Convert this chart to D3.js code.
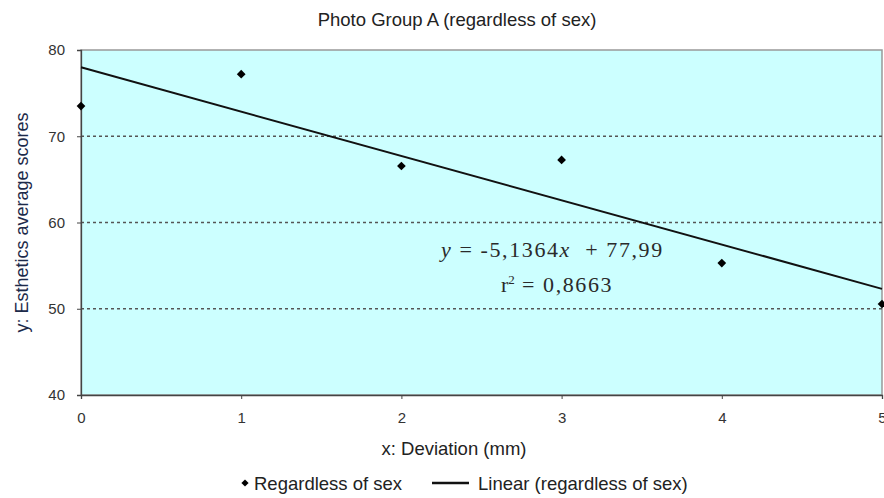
<!DOCTYPE html>
<html>
<head>
<meta charset="utf-8">
<script src="https://cdn.jsdelivr.net/npm/d3@7"></script>
<style>
  body { margin: 0; background: #fff; }
  text { font-family: "Liberation Sans", Arial, sans-serif; }
</style>
</head>
<body>
<div id="chart"></div>
<script>
// data
const deviation = [0, 1, 2, 3, 4, 5]
const scores = [73.5, 77.2, 66.55, 67.25, 55.3, 50.55]
const slope = -5.1364
const intercept = 77.99
const yTicks = [40, 50, 60, 70, 80]
const xTicks = [0, 1, 2, 3, 4, 5]

const W = 884, H = 498
const m = {left: 81, right: 2, top: 50, bottom: 103}
const w = W - m.left - m.right
const h = H - m.top - m.bottom

const svg = d3.select('#chart').append('svg')
  .attr('width', W).attr('height', H)

const g = svg.append('g').attr('transform', `translate(${m.left}, ${m.top})`)

const x = d3.scaleLinear().domain([0, 5]).range([0, w])
const y = d3.scaleLinear().domain([40, 80]).range([h, 0])

// plot background
g.append('rect')
  .attr('width', w).attr('height', h)
  .attr('fill', '#ccffff')
  .attr('stroke', '#999').attr('stroke-width', 1.5)

// gridlines
g.selectAll('.grid')
  .data(yTicks.filter(d => d > 40 && d < 80)).enter()
  .append('line')
    .attr('x1', 0).attr('x2', w)
    .attr('y1', d => y(d)).attr('y2', d => y(d))
    .attr('stroke', '#555').attr('stroke-width', 1.6)
    .attr('stroke-dasharray', '3,3')

// axes
const yAxis = g.append('g')
  .call(d3.axisLeft(y).tickValues(yTicks).tickSize(4).tickPadding(12).tickFormat(d3.format('d')))
const xAxis = g.append('g')
  .attr('transform', `translate(0, ${h})`)
  .call(d3.axisBottom(x).tickValues(xTicks).tickSize(4).tickPadding(13).tickFormat(d3.format('d')))

;[xAxis, yAxis].forEach(a => {
  a.select('.domain').attr('stroke', '#444').attr('stroke-width', 1.3)
  a.selectAll('.tick line').attr('stroke', '#444')
  a.selectAll('.tick text').attr('fill', '#333').style('font-size', '15px')
})

// trend line
g.append('line')
  .attr('x1', x(0)).attr('y1', y(intercept))
  .attr('x2', x(5)).attr('y2', y(intercept + slope * 5))
  .attr('stroke', '#111').attr('stroke-width', 2)

// points
g.selectAll('.pt')
  .data(deviation).enter()
  .append('path')
    .attr('d', d3.symbol(d3.symbolSquare, 38))
    .attr('transform', (d, i) => `translate(${x(d)}, ${y(scores[i])}) rotate(45)`)
    .attr('fill', '#000')

// equation
const eqFont = '"Liberation Serif", "Times New Roman", serif'
const eq = g.append('text')
  .attr('x', 360).attr('y', 207)
  .style('font-family', eqFont).style('letter-spacing', '1.6px')
  .style('white-space', 'pre')
  .style('font-size', '22px').attr('fill', '#2a2a2a')
eq.append('tspan').style('font-style', 'italic').text('y')
eq.append('tspan').text(' = -5,1364')
eq.append('tspan').style('font-style', 'italic').text('x')
eq.append('tspan').text('  + 77,99')

const r2 = g.append('text')
  .attr('x', 420).attr('y', 242)
  .style('font-family', eqFont)
  .style('font-size', '22px').attr('fill', '#2a2a2a')
r2.append('tspan').text('r')
r2.append('tspan').attr('dy', -8).style('font-size', '13px').text('2')
r2.append('tspan').attr('dy', 8).style('letter-spacing', '1.6px').text(' = 0,8663')

// title & labels
svg.append('text')
  .attr('x', 457).attr('y', 26).attr('text-anchor', 'middle')
  .style('font-size', '18.5px').attr('fill', '#222')
  .text('Photo Group A (regardless of sex)')

svg.append('text')
  .attr('x', 454).attr('y', 455).attr('text-anchor', 'middle')
  .style('font-size', '18.5px').attr('fill', '#222')
  .text('x: Deviation (mm)')

svg.append('text')
  .attr('transform', `translate(28, ${m.top + h / 2}) rotate(-90)`)
  .attr('text-anchor', 'middle')
  .style('font-size', '18px').attr('fill', '#1d2a4a')
  .text('y: Esthetics average scores')

// legend
const lg = svg.append('g').attr('transform', 'translate(0, 483)')
lg.append('path')
  .attr('d', d3.symbol(d3.symbolSquare, 26))
  .attr('transform', 'translate(245, 0) rotate(45)')
  .attr('fill', '#000')
lg.append('text')
  .attr('x', 254).attr('y', 6.5)
  .style('font-size', '18.5px').attr('fill', '#222')
  .text('Regardless of sex')
lg.append('line')
  .attr('x1', 432).attr('x2', 469).attr('y1', 0).attr('y2', 0)
  .attr('stroke', '#111').attr('stroke-width', 2.5)
lg.append('text')
  .attr('x', 478).attr('y', 6.5)
  .style('font-size', '18.5px').attr('fill', '#222')
  .text('Linear (regardless of sex)')
</script>
</body>
</html>
